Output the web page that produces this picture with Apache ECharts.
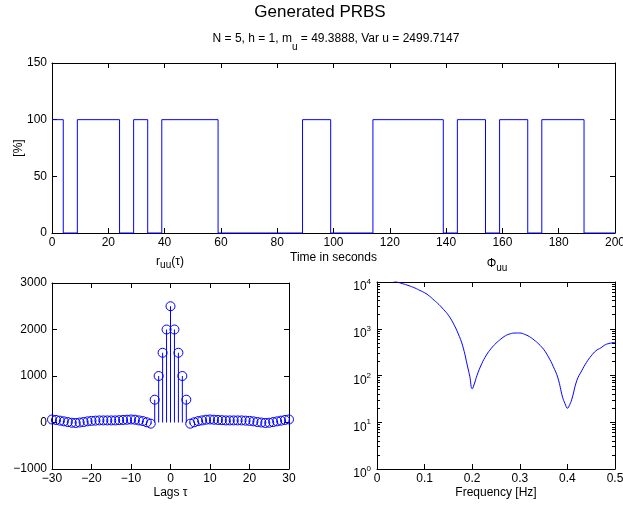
<!DOCTYPE html>
<html>
<head>
<meta charset="utf-8">
<script src="https://cdn.jsdelivr.net/npm/echarts@6/dist/echarts.min.js"></script>
<style>
html,body{margin:0;padding:0;background:#fff;}
#c{width:623px;height:506px;}
</style>
</head>
<body>
<div id="c"></div>
<script>
// ---- Data ----
// PRBS: switching instants (s) and the level held from each instant on
const switchTimes = [0, 4, 9, 24, 29, 34, 39, 59, 89, 99, 114, 139, 144, 154, 159, 169, 174, 189, 200];
const switchLevels = [100, 0, 100, 0, 100, 0, 100, 0, 100, 0, 100, 0, 100, 0, 100, 0, 100, 0, 0];

// autocorrelation r_uu(tau)
const lags = [-30,-29,-28,-27,-26,-25,-24,-23,-22,-21,-20,-19,-18,-17,-16,-15,-14,-13,-12,-11,-10,-9,-8,-7,-6,-5,-4,-3,-2,-1,0,1,2,3,4,5,6,7,8,9,10,11,12,13,14,15,16,17,18,19,20,21,22,23,24,25,26,27,28,29,30];
const ruu = [65,55,40,25,10,-5,-10,0,10,25,35,40,45,45,45,45,45,50,55,60,65,60,45,30,5,-25,
             490,1000,1500,2000,2500,2000,1500,1000,490,
             -25,5,30,45,60,65,60,55,50,45,45,45,45,45,40,35,25,10,0,-10,-5,10,25,40,55,65];

// spectrum Phi_uu(f)
const freq = [0,0.02,0.04,0.05,0.06,0.07,0.08,0.09,0.10,0.11,0.12,0.13,0.14,0.15,0.16,0.17,0.18,0.19,0.195,0.20,0.205,0.21,0.22,0.23,0.24,0.25,0.26,0.27,0.28,0.29,0.30,0.31,0.32,0.33,0.34,0.35,0.36,0.37,0.38,0.39,0.395,0.40,0.405,0.41,0.42,0.43,0.44,0.45,0.46,0.47,0.48,0.49,0.50];
const phiuu = [12600,11700,10200,9440,8810,8130,7410,6610,5890,5010,4070,3310,2570,1950,1320,810,430,160,95,52,69,100,178,275,380,490,600,710,780,810,810,760,680,575,470,363,251,158,89,34,25,20,24,33,79,126,190,263,339,389,457,490,513];

// tick labels
const timeTicks = {min: 0, max: 200, interval: 20};
const pctTicks = {min: 0, max: 150, interval: 50};
const lagTicks = {min: -30, max: 30, interval: 10};
const corrTicks = {min: -1000, max: 3000, interval: 1000};
const freqTicks = {min: 0, max: 0.5, interval: 0.1};
const phiTicks = {min: 1, max: 10000};

// ---- Build ----
const FONT = "'Liberation Sans', Arial, Helvetica, sans-serif";
const BLUE = '#0000ff';
const stepData = switchTimes.map((t, i) => [t, switchLevels[i]]);
const stemData = lags.map((l, i) => [l, ruu[i]]);
const phiData = freq.map((f, i) => [f, phiuu[i]]);

// minor log-decade tick positions (in decades) for the overlay axes
const minorLog = [];
for (let d = 0; d < 4; d++) for (let k = 2; k <= 9; k++) minorLog.push(d + Math.log10(k));

const lineStyle = {color: '#000', width: 1};
function xAx(grid, t, pos, labels, extra) {
  return Object.assign({
    type: 'value', gridIndex: grid, position: pos, min: t.min, max: t.max, interval: t.interval,
    axisLine: {show: true, onZero: false, lineStyle},
    axisTick: {show: true, inside: true, length: 5, lineStyle},
    axisLabel: {show: labels, color: '#000', fontSize: 12, fontFamily: FONT, margin: 4},
    splitLine: {show: false}
  }, extra || {});
}
function yAx(grid, t, pos, labels, extra) {
  return Object.assign({
    type: 'value', gridIndex: grid, position: pos, min: t.min, max: t.max, interval: t.interval,
    axisLine: {show: true, onZero: false, lineStyle},
    axisTick: {show: true, inside: true, length: 5, lineStyle},
    axisLabel: {show: labels, color: '#000', fontSize: 12, fontFamily: FONT, margin: 5},
    splitLine: {show: false}
  }, extra || {});
}
function minorAx(pos) {
  return {type: 'value', gridIndex: 3, position: pos, min: 0, max: 4,
    axisLine: {show: false, onZero: false},
    axisTick: {show: true, inside: true, length: 3, lineStyle, customValues: minorLog},
    axisLabel: {show: false}, splitLine: {show: false}};
}
const nameStyle = {color: '#000', fontSize: 12, fontFamily: FONT};

const logLabel = {
  show: true, color: '#000', fontFamily: FONT, margin: 6,
  formatter: v => '{b|10}{s|' + Math.round(Math.log10(v)) + '}',
  rich: {
    b: {fontSize: 12, fontFamily: FONT, color: '#000', lineHeight: 12, verticalAlign: 'top', padding: [5, 0, 5, 0]},
    s: {fontSize: 8, fontFamily: FONT, color: '#000', lineHeight: 8, verticalAlign: 'top', padding: [2, 0, 0, 0]}
  }
};

const option = {
  animation: false,
  backgroundColor: '#fff',
  grid: [
    {left: 52, top: 63, width: 563, height: 170, containLabel: false, outerBoundsMode: 'none'},
    {left: 52, top: 283, width: 237, height: 186, containLabel: false, outerBoundsMode: 'none'},
    {left: 377, top: 282, width: 238, height: 187, containLabel: false, outerBoundsMode: 'none'},
    {left: 377, top: 282, width: 238, height: 187, containLabel: false, outerBoundsMode: 'none'}
  ],
  xAxis: [
    xAx(0, timeTicks, 'bottom', true, {name: 'Time in seconds', nameLocation: 'middle', nameGap: 19, nameMoveOverlap: false, nameTextStyle: nameStyle}),
    xAx(0, timeTicks, 'top', false),
    xAx(1, lagTicks, 'bottom', true, {name: 'Lags τ', nameLocation: 'middle', nameGap: 18, nameMoveOverlap: false, nameTextStyle: nameStyle,
      axisLabel: {show: true, color: '#000', fontSize: 12, fontFamily: FONT, margin: 4, formatter: v => String(v).replace('-', '\u2212')}}),
    xAx(1, lagTicks, 'top', false),
    xAx(2, freqTicks, 'bottom', true, {name: 'Frequency [Hz]', nameLocation: 'middle', nameGap: 18, nameMoveOverlap: false, nameTextStyle: nameStyle}),
    xAx(2, freqTicks, 'top', false),
    {type: 'value', gridIndex: 3, min: 0, max: 1, show: false}
  ],
  yAxis: [
    yAx(0, pctTicks, 'left', true, {name: '[%]', nameLocation: 'middle', nameRotate: 90, nameGap: 27, nameMoveOverlap: false, nameTextStyle: nameStyle}),
    yAx(0, pctTicks, 'right', false),
    yAx(1, corrTicks, 'left', true, {axisLabel: {show: true, color: '#000', fontSize: 12, fontFamily: FONT, margin: 5, formatter: v => String(v).replace('-', '\u2212')}}),
    yAx(1, corrTicks, 'right', false),
    {type: 'log', logBase: 10, gridIndex: 2, position: 'left', min: phiTicks.min, max: phiTicks.max,
      axisLine: {show: true, onZero: false, lineStyle}, axisTick: {show: true, inside: true, length: 5, lineStyle},
      axisLabel: logLabel, splitLine: {show: false}, minorTick: {show: false}},
    {type: 'log', logBase: 10, gridIndex: 2, position: 'right', min: phiTicks.min, max: phiTicks.max,
      axisLine: {show: true, onZero: false, lineStyle}, axisTick: {show: true, inside: true, length: 5, lineStyle},
      axisLabel: {show: false}, splitLine: {show: false}},
    minorAx('left'),
    minorAx('right')
  ],
  series: [
    {type: 'line', xAxisIndex: 0, yAxisIndex: 0, step: 'end', data: stepData, showSymbol: false,
      lineStyle: {color: BLUE, width: 1}, clip: false, z: 5},
    {type: 'bar', xAxisIndex: 2, yAxisIndex: 2, data: stemData, barWidth: 1,
      itemStyle: {color: BLUE}, z: 4},
    {type: 'scatter', xAxisIndex: 2, yAxisIndex: 2, data: stemData, symbol: 'circle', symbolSize: 9,
      itemStyle: {color: 'rgba(0,0,0,0)', borderColor: BLUE, borderWidth: 1, opacity: 1}, z: 5},
    {type: 'line', xAxisIndex: 4, yAxisIndex: 4, data: phiData, showSymbol: false, smooth: 0.45,
      lineStyle: {color: BLUE, width: 1}, clip: true, z: 5}
  ],
  graphic: [
    {type: 'text', x: 320, y: 12.5, style: {text: 'Generated PRBS', fontSize: 17, fontFamily: FONT, fill: '#000', align: 'center', verticalAlign: 'middle'}},
    {type: 'text', x: 336, y: 32.5, style: {
      text: '{m|N = 5, h = 1, m}{s|u}{m| = 49.3888, Var u = 2499.7147}',
      align: 'center', verticalAlign: 'top',
      rich: {
        m: {fontSize: 12, fontFamily: FONT, fill: '#000', lineHeight: 12, verticalAlign: 'top'},
        s: {fontSize: 10, fontFamily: FONT, fill: '#000', lineHeight: 12, verticalAlign: 'top', padding: [10, 0, 0, 0]}
      }}},
    {type: 'text', x: 170, y: 255.5, style: {
      text: '{m|r}{s|uu}{m|(τ)}', align: 'center', verticalAlign: 'top',
      rich: {
        m: {fontSize: 12, fontFamily: FONT, fill: '#000', lineHeight: 12, verticalAlign: 'top'},
        s: {fontSize: 10, fontFamily: FONT, fill: '#000', lineHeight: 12, verticalAlign: 'top', padding: [5, 0, 0, 0]}
      }}},
    {type: 'text', x: 497, y: 258, style: {
      text: '{m|Φ}{s|uu}', align: 'center', verticalAlign: 'top',
      rich: {
        m: {fontSize: 12, fontFamily: FONT, fill: '#000', lineHeight: 12, verticalAlign: 'top'},
        s: {fontSize: 10, fontFamily: FONT, fill: '#000', lineHeight: 12, verticalAlign: 'top', padding: [5, 0, 0, 0]}
      }}}
  ]
};

const chart = echarts.init(document.getElementById('c'), null, {renderer: 'canvas'});
chart.setOption(option);
</script>
</body>
</html>
